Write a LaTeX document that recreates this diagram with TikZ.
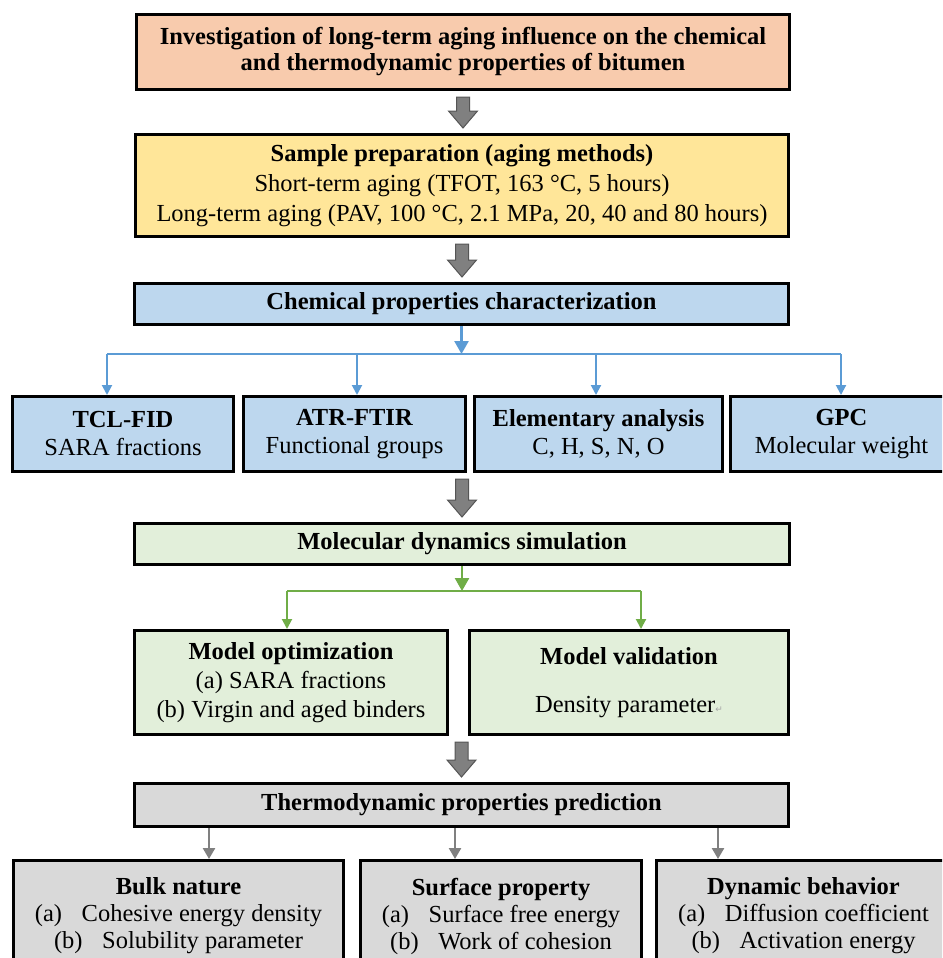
\documentclass[tikz,border=0pt]{standalone}
\usepackage{fontspec}
\setmainfont{Liberation Serif}
\newfontfamily\symfont{DejaVu Sans}
\usetikzlibrary{arrows.meta,calc}
\definecolor{cTop}{HTML}{F8CBAD}
\definecolor{cYel}{HTML}{FFE699}
\definecolor{cBlue}{HTML}{BDD7EE}
\definecolor{cGreen}{HTML}{E2EFDA}
\definecolor{cGray}{HTML}{D9D9D9}
\definecolor{lBlue}{HTML}{5B9BD5}
\definecolor{lGreen}{HTML}{70AD47}
\definecolor{aGray}{HTML}{808080}
\definecolor{aGrayD}{HTML}{555555}
\newcommand\blockarrow[2]{%
  \draw[blockarr] ($#1+(-6.5,6)$) -- ($#1+(6.5,6)$) -- ($#2+(6.5,-22)$) -- ($#2+(14.5,-22)$)
    -- ($#2+(0,-5)$) -- ($#2+(-14.5,-22)$) -- ($#2+(-6.5,-22)$) -- cycle;}
\begin{document}
\begin{tikzpicture}[x=1pt,y=-1pt,
  box/.style={draw=black, line width=3pt, inner sep=0pt, align=center, anchor=north west},
  fs/.style={font=\fontsize{24.5}{#1}\selectfont},
  blockarr/.style={fill=aGray, draw=aGrayD, line width=1pt, line join=miter},
  bline/.style={draw=lBlue, line width=2pt},
  gline/.style={draw=lGreen, line width=2pt},
  tline/.style={draw=aGray, line width=2.5pt}]
\useasboundingbox (0,0) rectangle (942,958);
\clip (0,0) rectangle (942,958);
\fill[white] (0,0) rectangle (942,958);

% boxes
\node[box, fs=26, fill=cTop, minimum width=653, minimum height=75] (top) at (135,13)
  {\textbf{Investigation of long-term aging influence on the chemical}\\\textbf{and thermodynamic properties of bitumen}};
\node[box, fs=30, fill=cYel, minimum width=653, minimum height=102] (yel) at (134,133)
  {\textbf{Sample preparation (aging methods)}\\Short-term aging (TFOT, 163 °C, 5 hours)\\Long-term aging (PAV, 100 °C, 2.1 MPa, 20, 40 and 80 hours)};
\node[box, fs=28, fill=cBlue, minimum width=654, minimum height=41] (chem) at (133,282)
  {\textbf{Chemical properties characterization}};
\node[box, fs=28, fill=cBlue, minimum width=221, minimum height=75] (tcl) at (11,395)
  {\textbf{TCL-FID}\\SARA fractions};
\node[box, fs=28, fill=cBlue, minimum width=222, minimum height=75] (atr) at (242,395)
  {\textbf{ATR-FTIR}\\Functional groups};
\node[box, fs=28, fill=cBlue, minimum width=248, minimum height=75] (elem) at (473,395)
  {\textbf{Elementary analysis}\\C, H, S, N, O};
\node[box, fs=28, fill=cBlue, minimum width=222, minimum height=75] (gpc) at (729,395)
  {\textbf{GPC}\\Molecular weight};
\node[box, fs=28, fill=cGreen, minimum width=655, minimum height=41] (mol) at (133,522)
  {\textbf{Molecular dynamics simulation}};
\node[box, fs=29, fill=cGreen, minimum width=313, minimum height=104] (opt) at (133,629)
  {\textbf{Model optimization}\\(a) SARA fractions\\(b) Virgin and aged binders};
\node[box, fs=28, fill=cGreen, minimum width=319, minimum height=104] (val) at (468,629)
  {\textbf{Model validation}\\[20pt]Density parameter{\symfont\fontsize{9}{9}\selectfont\color{gray!70}↵}};
\node[box, fs=28, fill=cGray, minimum width=654, minimum height=43] (thermo) at (133,782)
  {\textbf{Thermodynamic properties prediction}};
\node[box, fs=27, fill=cGray, minimum width=330, minimum height=111] (bulk) at (12,859)
  {\textbf{Bulk nature}\\(a)\hspace{0.8em}Cohesive energy density\\(b)\hspace{0.8em}Solubility parameter};
\node[box, fs=27, fill=cGray, minimum width=281, minimum height=111] (surf) at (359,859)
  {\textbf{Surface property}\\(a)\hspace{0.8em}Surface free energy\\(b)\hspace{0.8em}Work of cohesion};
\node[box, fs=27, fill=cGray, minimum width=294, minimum height=111] (dyn) at (655,859)
  {\textbf{Dynamic behavior}\\(a)\hspace{0.8em}Diffusion coefficient\\(b)\hspace{0.8em}Activation energy};

% block arrows
\blockarrow{(top.south)}{(top.south |- yel.north)}
\blockarrow{(yel.south)}{(yel.south |- chem.north)}
\blockarrow{(mol.north |- tcl.south)}{(mol.north)}
\blockarrow{(thermo.north |- opt.south)}{(thermo.north)}

% blue connectors
\coordinate (bL) at (107,354);
\coordinate (b2) at (357,354);
\coordinate (b3) at (596,354);
\coordinate (bR) at (841,354);
\coordinate (bM) at (chem.south |- bL);
\draw[bline, line width=2.5pt, -{Triangle[width=14pt,length=13pt]}] (chem.south) -- (bM);
\draw[bline] (bL) -- (bR);
\draw[bline, -{Triangle[width=10pt,length=10pt]}] (bL) -- (bL |- tcl.north);
\draw[bline, -{Triangle[width=10pt,length=10pt]}] (b2) -- (b2 |- atr.north);
\draw[bline, -{Triangle[width=10pt,length=10pt]}] (b3) -- (b3 |- elem.north);
\draw[bline, -{Triangle[width=10pt,length=10pt]}] (bR) -- (bR |- gpc.north);

% green connectors
\coordinate (gL) at (287,591);
\coordinate (gR) at (641,591);
\coordinate (gM) at (mol.south |- gL);
\draw[gline, line width=2.5pt, -{Triangle[width=14pt,length=13pt]}] (mol.south) -- (gM);
\draw[gline] (gL) -- (gR);
\draw[gline, -{Triangle[width=10pt,length=10pt]}] (gL) -- (gL |- opt.north);
\draw[gline, -{Triangle[width=10pt,length=10pt]}] (gR) -- (gR |- val.north);

% thermo connectors
\coordinate (t1) at (209,840);
\coordinate (t2) at (455,840);
\coordinate (t3) at (718,840);
\draw[tline, -{Triangle[width=12pt,length=11pt]}] (t1 |- thermo.south) -- (t1 |- bulk.north);
\draw[tline, -{Triangle[width=12pt,length=11pt]}] (t2 |- thermo.south) -- (t2 |- surf.north);
\draw[tline, -{Triangle[width=12pt,length=11pt]}] (t3 |- thermo.south) -- (t3 |- dyn.north);
\end{tikzpicture}
\end{document}
